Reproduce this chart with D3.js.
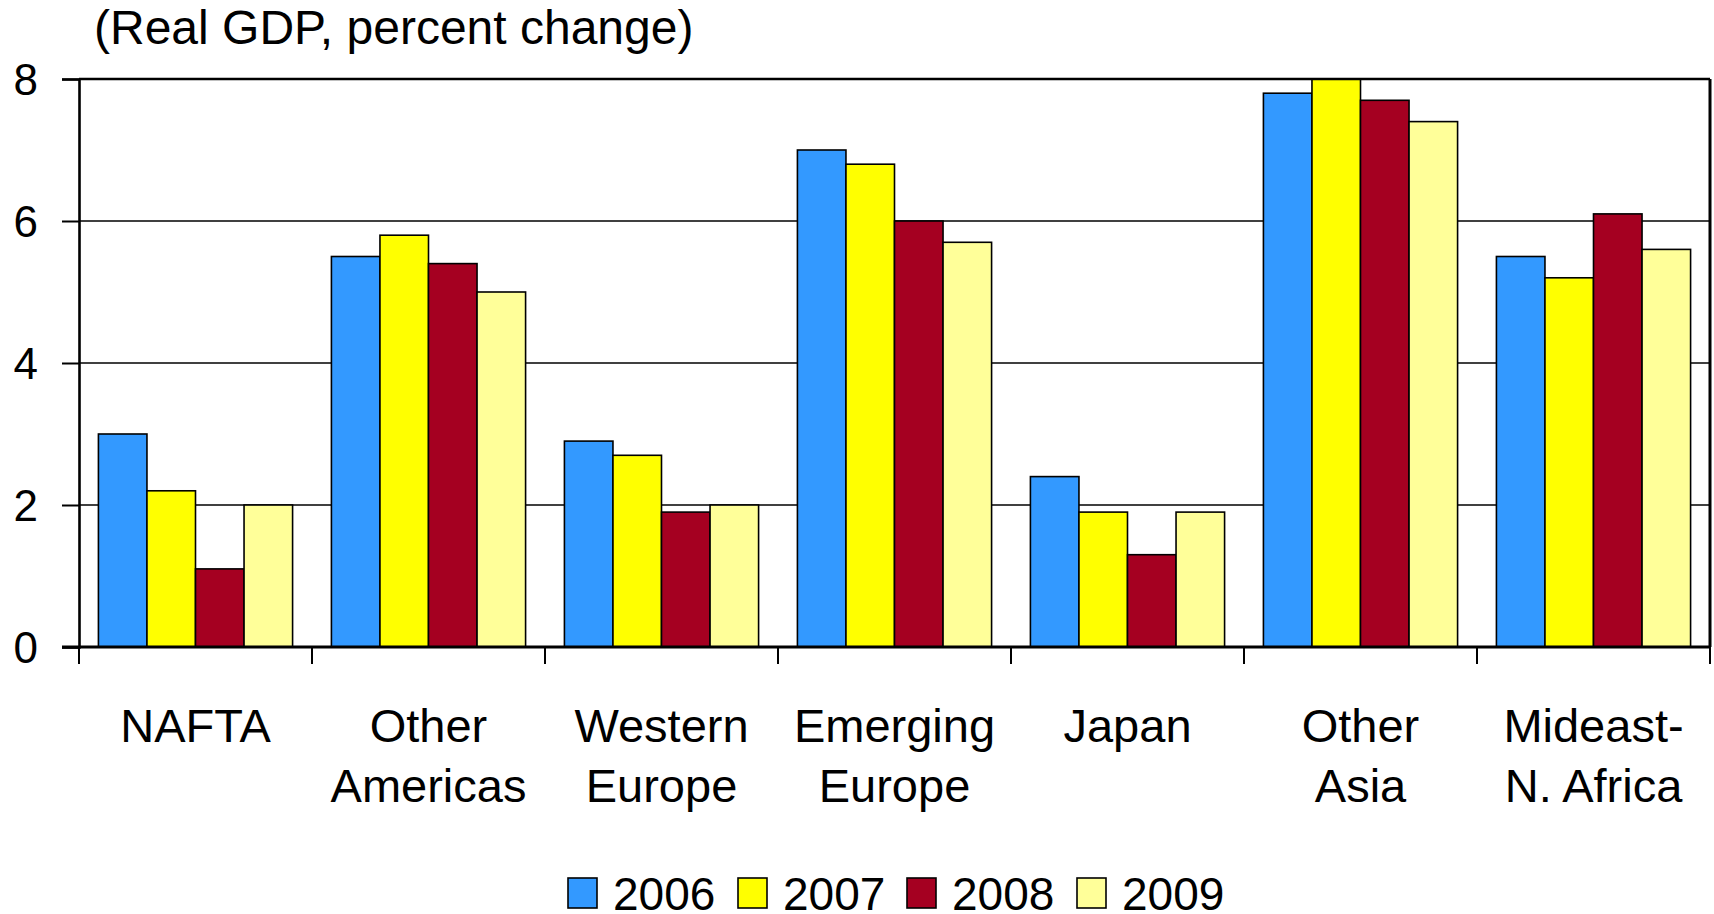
<!DOCTYPE html>
<html>
<head>
<meta charset="utf-8">
<script src="https://cdn.jsdelivr.net/npm/d3@7"></script>
<style>
  html, body { margin: 0; padding: 0; background: #fff; }
  svg { display: block; font-family: "Liberation Sans", Arial, sans-serif; }
</style>
</head>
<body>
<svg id="chart" width="1714" height="914"></svg>
<script>
// Regional growth outlook, real GDP percent change
const categories = [
  ["NAFTA"],
  ["Other", "Americas"],
  ["Western", "Europe"],
  ["Emerging", "Europe"],
  ["Japan"],
  ["Other", "Asia"],
  ["Mideast-", "N. Africa"]
];
const years = ["2006", "2007", "2008", "2009"];
const values2006 = [3.0, 5.5, 2.9, 7.0, 2.4, 7.8, 5.5];
const values2007 = [2.2, 5.8, 2.7, 6.8, 1.9, 8.0, 5.2];
const values2008 = [1.1, 5.4, 1.9, 6.0, 1.3, 7.7, 6.1];
const values2009 = [2.0, 5.0, 2.0, 5.7, 1.9, 7.4, 5.6];
const yTicks = [0, 2, 4, 6, 8];
const colors = ["#3399ff", "#ffff00", "#a50021", "#ffff99"];

const series = [values2006, values2007, values2008, values2009];

const svg = d3.select("#chart");
const plotLeft = 79, plotRight = 1710, plotTop = 79, plotBottom = 647;

const x = d3.scaleBand()
  .domain(d3.range(categories.length))
  .range([plotLeft, plotRight])
  .paddingInner(0).paddingOuter(0);

const xs = d3.scaleBand()
  .domain(years)
  .range([0, x.bandwidth()])
  .paddingInner(0).paddingOuter(0.4);

const y = d3.scaleLinear().domain([0, 8]).range([plotBottom, plotTop]);

// Horizontal gridlines
svg.append("g")
  .selectAll("line")
  .data(yTicks.filter(t => t > 0 && t < 8))
  .join("line")
  .attr("x1", plotLeft).attr("x2", plotRight)
  .attr("y1", d => y(d)).attr("y2", d => y(d))
  .attr("stroke", "#000").attr("stroke-width", 1.6);

// Bars
const groups = svg.append("g")
  .selectAll("g")
  .data(categories.map((c, i) => i))
  .join("g")
  .attr("transform", i => `translate(${x(i)},0)`);

groups.selectAll("rect")
  .data(i => years.map((yr, k) => ({ yr, k, v: series[k][i] })))
  .join("rect")
  .attr("x", d => xs(d.yr))
  .attr("y", d => y(d.v))
  .attr("width", xs.bandwidth())
  .attr("height", d => y(0) - y(d.v))
  .attr("fill", d => colors[d.k])
  .attr("stroke", "#000")
  .attr("stroke-width", 1.6);

// Plot frame: top and right edges
svg.append("line")
  .attr("x1", plotLeft).attr("x2", plotRight)
  .attr("y1", plotTop).attr("y2", plotTop)
  .attr("stroke", "#000").attr("stroke-width", 2.6);
svg.append("line")
  .attr("x1", plotRight).attr("x2", plotRight)
  .attr("y1", plotTop).attr("y2", plotBottom)
  .attr("stroke", "#000").attr("stroke-width", 3);

// Y axis
const yAxis = d3.axisLeft(y)
  .tickValues(yTicks)
  .tickSize(17)
  .tickPadding(24)
  .tickFormat(d3.format("d"));
const gy = svg.append("g")
  .attr("transform", `translate(${plotLeft},0)`)
  .call(yAxis);
gy.select(".domain").attr("stroke", "#000").attr("stroke-width", 2.6);
gy.selectAll(".tick line").attr("stroke", "#000").attr("stroke-width", 2);
gy.selectAll(".tick text")
  .attr("font-size", 44)
  .attr("font-family", "Liberation Sans, Arial, sans-serif")
  .attr("fill", "#000")
  .attr("dy", "0.36em");

// X axis baseline and category separators
const xTickPos = d3.range(categories.length + 1).map(i => plotLeft + i * x.step());
svg.append("line")
  .attr("x1", plotLeft - 17).attr("x2", plotRight)
  .attr("y1", plotBottom).attr("y2", plotBottom)
  .attr("stroke", "#000").attr("stroke-width", 3.2);
svg.append("g")
  .selectAll("line")
  .data(xTickPos)
  .join("line")
  .attr("x1", d => d).attr("x2", d => d)
  .attr("y1", plotBottom).attr("y2", plotBottom + 17)
  .attr("stroke", "#000").attr("stroke-width", 2);

// Category labels
const labels = svg.append("g")
  .selectAll("text")
  .data(categories.map((c, i) => ({ c, i })))
  .join("text")
  .attr("x", d => x(d.i) + x.bandwidth() / 2)
  .attr("y", 742)
  .attr("text-anchor", "middle")
  .attr("font-size", 47)
  .attr("fill", "#000");
labels.selectAll("tspan")
  .data(d => d.c.map((line, j) => ({ line, j, cx: x(d.i) + x.bandwidth() / 2 })))
  .join("tspan")
  .attr("x", d => d.cx)
  .attr("dy", d => d.j === 0 ? 0 : 60)
  .text(d => d.line);

// Axis title
svg.append("text")
  .attr("x", 94)
  .attr("y", 44)
  .attr("font-size", 48)
  .attr("fill", "#000")
  .text("(Real GDP, percent change)");

// Legend
const legendX = [568, 738, 907, 1077];
const legend = svg.append("g")
  .selectAll("g")
  .data(years.map((yr, k) => ({ yr, k })))
  .join("g")
  .attr("transform", d => `translate(${legendX[d.k]},878)`);
legend.append("rect")
  .attr("width", 29).attr("height", 30)
  .attr("fill", d => colors[d.k])
  .attr("stroke", "#000").attr("stroke-width", 1.6);
legend.append("text")
  .attr("x", 45)
  .attr("y", 32)
  .attr("font-size", 46)
  .attr("fill", "#000")
  .text(d => d.yr);
</script>
</body>
</html>
